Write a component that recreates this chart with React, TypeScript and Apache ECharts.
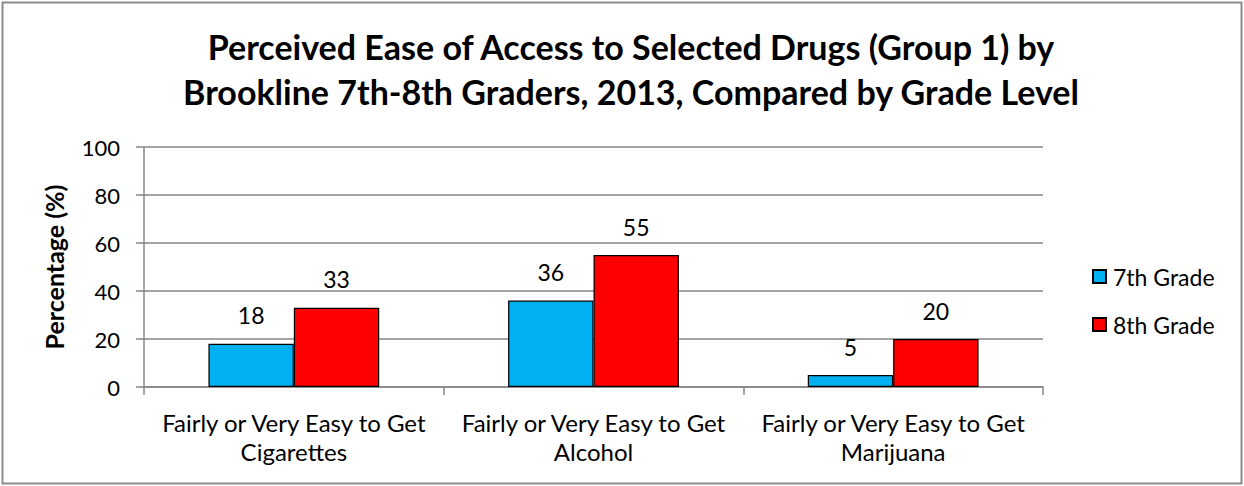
import React, { useEffect, useRef } from "react";
import * as echarts from "echarts";

const titleLines = [
  "Perceived Ease of Access to Selected Drugs (Group 1) by",
  "Brookline 7th-8th Graders, 2013, Compared by Grade Level",
];
const categories = [
  "Fairly or Very Easy to Get\nCigarettes",
  "Fairly or Very Easy to Get\nAlcohol",
  "Fairly or Very Easy to Get\nMarijuana",
];
const seriesNames = ["7th Grade", "8th Grade"];
const grade7 = [18, 36, 5];
const grade8 = [33, 55, 20];
const yAxisName = "Percentage (%)";

const FONT = "Lato, 'Open Sans', sans-serif";

export default function App() {
  const ref = useRef<HTMLDivElement>(null);
  useEffect(() => {
    if (!ref.current) return;
    const chart = echarts.init(ref.current, undefined, { renderer: "svg" });
    const labelStyle = {
      show: true,
      position: "top",
      distance: 17,
      fontFamily: FONT,
      fontSize: 23,
      color: "#000",
    };
    chart.setOption({
      animation: false,
      backgroundColor: "#ffffff",
      textStyle: { fontFamily: FONT },
      title: {
        text: titleLines.join("\n"),
        left: 626,
        textAlign: "center",
        top: 19,
        textStyle: {
          fontFamily: FONT,
          fontWeight: "bold",
          fontSize: 34,
          lineHeight: 45,
          color: "#000",
        },
      },
      legend: {
        orient: "vertical",
        left: 1087,
        top: 260,
        itemWidth: 13,
        itemHeight: 13,
        itemGap: 25,
        icon: "rect",
        data: seriesNames,
        textStyle: { fontFamily: FONT, fontSize: 23, color: "#000", padding: [0, 0, 0, 2] },
      },
      grid: { left: 144, right: 201, top: 147, bottom: 99, containLabel: false },
      xAxis: {
        type: "category",
        data: categories,
        axisLine: { lineStyle: { color: "#868686", width: 1.5 } },
        axisTick: { show: true, length: 8, lineStyle: { color: "#868686", width: 1.5 } },
        axisLabel: {
          fontFamily: FONT,
          fontSize: 24,
          color: "#000",
          lineHeight: 29,
          margin: 21,
          interval: 0,
        },
      },
      yAxis: {
        type: "value",
        min: 0,
        max: 100,
        interval: 20,
        name: yAxisName,
        nameLocation: "middle",
        nameGap: 78,
        nameRotate: 90,
        nameTextStyle: { fontFamily: FONT, fontSize: 25, fontWeight: "bold", color: "#000" },
        axisLine: { show: true, lineStyle: { color: "#868686", width: 1.5 } },
        axisTick: { show: true, length: 8, lineStyle: { color: "#868686", width: 1.5 } },
        splitLine: { show: true, lineStyle: { color: "#868686", width: 1.5 } },
        axisLabel: { fontFamily: FONT, fontSize: 22, color: "#000", margin: 24 },
      },
      series: [
        {
          name: seriesNames[0],
          type: "bar",
          data: grade7,
          barGap: "0%",
          barCategoryGap: "43%",
          itemStyle: { color: "#00B0F0", borderColor: "#000", borderWidth: 1.2 },
          label: labelStyle,
        },
        {
          name: seriesNames[1],
          type: "bar",
          data: grade8,
          barGap: "0%",
          barCategoryGap: "43%",
          itemStyle: { color: "#FF0000", borderColor: "#000", borderWidth: 1.2 },
          label: labelStyle,
        },
      ],
      graphic: [
        {
          type: "rect",
          shape: { x: 2.5, y: 2.5, width: 1239, height: 481 },
          style: { fill: "none", stroke: "#8c8c8c", lineWidth: 2 },
          silent: true,
        },
      ],
    });
    return () => chart.dispose();
  }, []);
  return (
    <div
      ref={ref}
      style={{ position: "absolute", left: 0, top: 0, width: 1244, height: 486 }}
    />
  );
}
